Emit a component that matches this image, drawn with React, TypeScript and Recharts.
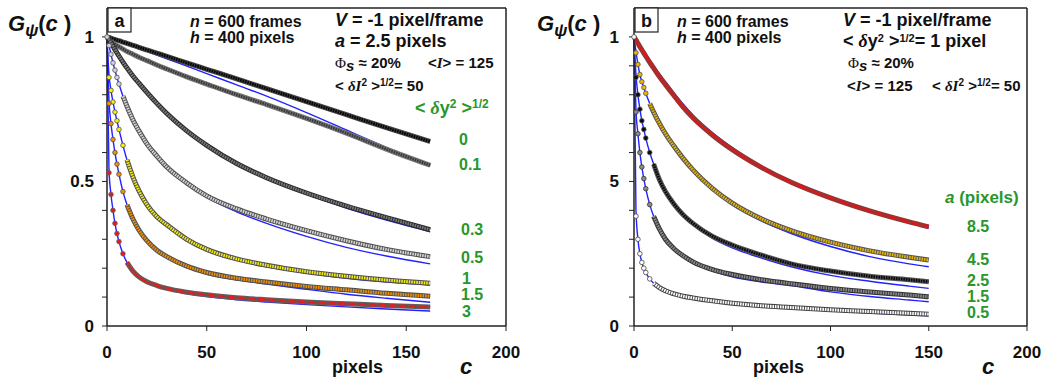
import React from 'react';
import { LineChart, Line, XAxis, YAxis, ReferenceLine } from 'recharts';

const FONT = '"Liberation Sans", Arial, sans-serif';
const SERIF = '"Liberation Serif", "DejaVu Serif", serif';
const GREEN = '#2a962a';
const FIT_BLUE = '#2222ff';
const AXIS = '#222';

// lag c (pixels) where each curve is sampled, panel a
const lagsA = [0, 1, 2, 3, 4, 5, 6, 8, 10, 13, 16, 20, 25, 30, 40, 50, 65, 80, 100, 120, 140, 162];

// panel a: G(c) for several <dy^2>^1/2 (markers) and fitted model (blue)
const gA_dy0 = [1, 0.998, 0.996, 0.993, 0.991, 0.989, 0.987, 0.982, 0.978, 0.971, 0.964, 0.955, 0.944, 0.933, 0.91, 0.888, 0.855, 0.821, 0.776, 0.731, 0.686, 0.638];
const gA_dy01 = [1, 0.99, 0.984, 0.979, 0.974, 0.97, 0.966, 0.958, 0.95, 0.94, 0.93, 0.918, 0.903, 0.889, 0.862, 0.837, 0.8, 0.766, 0.718, 0.667, 0.612, 0.556];
const fitA_dy01 = [1, 0.997, 0.995, 0.992, 0.99, 0.987, 0.985, 0.98, 0.975, 0.967, 0.96, 0.95, 0.937, 0.924, 0.899, 0.873, 0.834, 0.795, 0.738, 0.678, 0.618, 0.553];
const gA_dy03 = [1, 0.99, 0.98, 0.968, 0.956, 0.945, 0.934, 0.913, 0.893, 0.865, 0.84, 0.808, 0.77, 0.735, 0.675, 0.625, 0.562, 0.513, 0.46, 0.415, 0.375, 0.333];
const fitA_dy03 = [1, 0.99, 0.98, 0.968, 0.956, 0.945, 0.934, 0.913, 0.893, 0.865, 0.84, 0.808, 0.77, 0.735, 0.675, 0.625, 0.56, 0.51, 0.455, 0.408, 0.366, 0.326];
const gA_dy05 = [1, 0.97, 0.94, 0.91, 0.885, 0.86, 0.837, 0.795, 0.76, 0.713, 0.675, 0.63, 0.588, 0.55, 0.495, 0.45, 0.405, 0.37, 0.33, 0.295, 0.265, 0.24];
const fitA_dy05 = [1, 0.97, 0.94, 0.91, 0.885, 0.86, 0.837, 0.795, 0.76, 0.713, 0.675, 0.63, 0.585, 0.545, 0.49, 0.445, 0.395, 0.355, 0.31, 0.272, 0.242, 0.215];
const gA_dy1 = [null, 0.86, 0.815, 0.775, 0.74, 0.71, 0.68, 0.625, 0.575, 0.515, 0.468, 0.42, 0.378, 0.35, 0.3, 0.265, 0.232, 0.21, 0.188, 0.172, 0.159, 0.148];
const fitA_dy1 = [1, 0.87, 0.815, 0.775, 0.74, 0.71, 0.68, 0.625, 0.575, 0.515, 0.468, 0.42, 0.378, 0.35, 0.3, 0.262, 0.228, 0.205, 0.183, 0.165, 0.152, 0.142];
const gA_dy15 = [null, 0.77, 0.7, 0.645, 0.6, 0.56, 0.525, 0.465, 0.42, 0.37, 0.332, 0.295, 0.262, 0.24, 0.207, 0.185, 0.165, 0.152, 0.137, 0.125, 0.113, 0.103];
const fitA_dy15 = [1, 0.78, 0.7, 0.645, 0.6, 0.56, 0.525, 0.465, 0.42, 0.37, 0.332, 0.295, 0.262, 0.238, 0.204, 0.18, 0.16, 0.145, 0.127, 0.11, 0.096, 0.082];
const gA_dy3 = [null, 0.53, 0.455, 0.4, 0.355, 0.32, 0.292, 0.25, 0.22, 0.19, 0.17, 0.153, 0.14, 0.13, 0.117, 0.108, 0.098, 0.091, 0.083, 0.077, 0.071, 0.066];
const fitA_dy3 = [1, 0.54, 0.455, 0.4, 0.355, 0.32, 0.292, 0.25, 0.22, 0.19, 0.17, 0.152, 0.138, 0.127, 0.112, 0.102, 0.091, 0.083, 0.074, 0.066, 0.059, 0.052];

// panel b: G(c) for several blob sizes a (pixels)
const lagsB = [0, 1, 2, 3, 4, 5, 6, 8, 10, 13, 16, 20, 25, 30, 40, 50, 65, 80, 100, 120, 140, 150];
const gB_a85 = [1, 0.99, 0.978, 0.966, 0.955, 0.944, 0.933, 0.912, 0.892, 0.862, 0.835, 0.8, 0.757, 0.72, 0.66, 0.61, 0.548, 0.497, 0.443, 0.398, 0.36, 0.343];
const fitB_a85 = [1, 0.992, 0.982, 0.971, 0.961, 0.951, 0.941, 0.921, 0.901, 0.872, 0.845, 0.81, 0.768, 0.73, 0.668, 0.617, 0.553, 0.5, 0.444, 0.397, 0.357, 0.338];
const gB_a45 = [null, 0.945, 0.905, 0.87, 0.845, 0.825, 0.805, 0.77, 0.74, 0.7, 0.665, 0.625, 0.58, 0.54, 0.475, 0.425, 0.37, 0.33, 0.29, 0.26, 0.238, 0.228];
const fitB_a45 = [1, 0.95, 0.905, 0.87, 0.845, 0.825, 0.805, 0.77, 0.74, 0.7, 0.665, 0.625, 0.58, 0.54, 0.473, 0.42, 0.363, 0.32, 0.275, 0.24, 0.215, 0.205];
const gB_a25 = [null, 0.86, 0.8, 0.75, 0.71, 0.68, 0.65, 0.6, 0.56, 0.505, 0.465, 0.425, 0.385, 0.355, 0.31, 0.28, 0.245, 0.215, 0.19, 0.172, 0.16, 0.153];
const fitB_a25 = [1, 0.87, 0.8, 0.75, 0.71, 0.68, 0.65, 0.6, 0.56, 0.505, 0.465, 0.423, 0.382, 0.35, 0.303, 0.27, 0.235, 0.205, 0.175, 0.155, 0.138, 0.13];
const gB_a15 = [null, 0.74, 0.665, 0.6, 0.55, 0.51, 0.475, 0.42, 0.38, 0.335, 0.3, 0.27, 0.243, 0.222, 0.195, 0.178, 0.16, 0.146, 0.13, 0.118, 0.107, 0.101];
const fitB_a15 = [1, 0.75, 0.665, 0.6, 0.55, 0.51, 0.475, 0.42, 0.38, 0.335, 0.3, 0.268, 0.24, 0.218, 0.19, 0.17, 0.152, 0.14, 0.118, 0.102, 0.09, 0.084];
const gB_a05 = [1, 0.38, 0.3, 0.25, 0.22, 0.2, 0.185, 0.163, 0.148, 0.133, 0.122, 0.112, 0.103, 0.097, 0.087, 0.079, 0.07, 0.064, 0.056, 0.05, 0.044, 0.041];
const fitB_a05 = [1, 0.4, 0.3, 0.25, 0.22, 0.2, 0.185, 0.163, 0.148, 0.133, 0.122, 0.112, 0.103, 0.096, 0.085, 0.076, 0.066, 0.06, 0.053, 0.045, 0.038, 0.035];

const xTicks = [0, 50, 100, 150, 200];
const yTicks = [0, 0.1, 0.2, 0.3, 0.4, 0.5, 0.6, 0.7, 0.8, 0.9, 1];
const yLabelValues = [0, 0.5, 1];
const yLabelsA = ['0', '0.5', '1'];
const yLabelsB = ['0', '5', '1'];

const labelsA = ['0', '0.1', '0.3', '0.5', '1', '1.5', '3'];
const labelsB = ['8.5', '4.5', '2.5', '1.5', '0.5'];

type Curve = {
  key: string;
  values: (number | null)[];
  fit?: number[];
  fill: string;
  edge: string;
  chainFrom: number; // lags below this are drawn as separate markers
};

const curvesA: Curve[] = [
  { key: 'dy0', values: gA_dy0, fill: '#050505', edge: '#444444', chainFrom: 0 },
  { key: 'dy01', values: gA_dy01, fit: fitA_dy01, fill: '#3a3a3a', edge: '#777777', chainFrom: 0 },
  { key: 'dy03', values: gA_dy03, fit: fitA_dy03, fill: '#7a7a7a', edge: '#2a2a2a', chainFrom: 0 },
  { key: 'dy05', values: gA_dy05, fit: fitA_dy05, fill: '#d4d4d4', edge: '#505050', chainFrom: 8 },
  { key: 'dy1', values: gA_dy1, fit: fitA_dy1, fill: '#f4ee10', edge: '#505050', chainFrom: 10 },
  { key: 'dy15', values: gA_dy15, fit: fitA_dy15, fill: '#f09000', edge: '#505050', chainFrom: 10 },
  { key: 'dy3', values: gA_dy3, fit: fitA_dy3, fill: '#e81818', edge: '#606060', chainFrom: 10 },
];

const curvesB: Curve[] = [
  { key: 'a85', values: gB_a85, fit: fitB_a85, fill: '#e41515', edge: '#8a3a3a', chainFrom: 0 },
  { key: 'a45', values: gB_a45, fit: fitB_a45, fill: '#e8b400', edge: '#555555', chainFrom: 8 },
  { key: 'a25', values: gB_a25, fit: fitB_a25, fill: '#0a0a0a', edge: '#555555', chainFrom: 10 },
  { key: 'a15', values: gB_a15, fit: fitB_a15, fill: '#8a8a8a', edge: '#333333', chainFrom: 10 },
  { key: 'a05', values: gB_a05, fit: fitB_a05, fill: '#ffffff', edge: '#444444', chainFrom: 10 },
];

function buildRows(lags: number[], curves: Curve[]) {
  return lags.map((c, i) => {
    const row: Record<string, number | null> = { c };
    curves.forEach((s) => {
      const v = s.values[i];
      row[s.key] = c >= s.chainFrom ? v : null;
      row[s.key + '_pt'] = c < s.chainFrom ? v : null;
      if (s.fit) row[s.key + '_fit'] = s.fit[i];
    });
    return row;
  });
}

const rowsA = buildRows(lagsA, curvesA);
const rowsB = buildRows(lagsB, curvesB);

const common = { type: 'monotone' as const, isAnimationActive: false, activeDot: false, legendType: 'none' as const };

function renderCurves(curves: Curve[]) {
  const fits = curves
    .filter((s) => s.fit)
    .map((s) => (
      <Line key={s.key + '_fit'} {...common} dataKey={s.key + '_fit'} stroke={FIT_BLUE} strokeWidth={1.4} dot={false} />
    ));
  const marks = curves.flatMap((s) => [
    <Line key={s.key + '_edge'} {...common} dataKey={s.key} stroke={s.edge} strokeWidth={5} dot={false} />,
    <Line key={s.key + '_bead'} {...common} dataKey={s.key} stroke={s.fill} strokeWidth={3} strokeDasharray="1.6 0.9" dot={false} />,
    <Line
      key={s.key + '_pt'}
      {...common}
      dataKey={s.key + '_pt'}
      stroke="none"
      dot={{ r: 2.3, fill: s.fill, stroke: s.edge, strokeWidth: 0.8 }}
    />,
  ]);
  return [...fits, ...marks];
}

const tickStyle = { fill: '#111', fontSize: 17, fontWeight: 700, fontFamily: FONT };

function yFormatter(labels: string[]) {
  return (v: number) => {
    const i = yLabelValues.findIndex((t) => Math.abs(t - v) < 1e-9);
    return i >= 0 ? labels[i] : '';
  };
}

type PanelProps = {
  left: number;
  width: number;
  plotLeft: number;
  plotRight: number;
  rows: Record<string, number | null>[];
  curves: Curve[];
  yLabels: string[];
  yMargin: number;
};

const Panel = ({ left, width, plotLeft, plotRight, rows, curves, yLabels, yMargin }: PanelProps) => (
  <div style={{ position: 'absolute', left, top: 0 }}>
    <LineChart width={width} height={381} data={rows} margin={{ top: 8, right: width - plotRight, bottom: 25, left: 0 }}>
      <XAxis
        type="number"
        dataKey="c"
        domain={[0, 200]}
        ticks={xTicks}
        interval={0}
        height={30}
        tickSize={5}
        tickMargin={15}
        axisLine={{ stroke: AXIS, strokeWidth: 1.5 }}
        tickLine={{ stroke: AXIS }}
        tick={tickStyle}
      />
      <YAxis
        type="number"
        domain={[0, 1.1]}
        ticks={yTicks}
        interval={0}
        width={plotLeft}
        tickSize={5}
        tickMargin={yMargin}
        tickFormatter={yFormatter(yLabels)}
        axisLine={{ stroke: AXIS, strokeWidth: 1.5 }}
        tickLine={{ stroke: AXIS }}
        tick={tickStyle}
      />
      <ReferenceLine y={1.1} stroke={AXIS} strokeWidth={1.5} />
      <ReferenceLine x={200} stroke={AXIS} strokeWidth={1.5} />
      {renderCurves(curves)}
    </LineChart>
  </div>
);

const Title = ({ x }: { x: number }) => (
  <text x={x} y={31} fontSize={22} fontWeight={700} fontStyle="italic">
    G<tspan fontSize={17} dy={5}>ψ</tspan>
    <tspan dy={-5} fontStyle="normal">(</tspan>
    <tspan>c</tspan>
    <tspan fontStyle="normal"> )</tspan>
  </text>
);

const PanelTag = ({ x, tag }: { x: number; tag: string }) => (
  <g>
    <rect x={x} y={8} width={23} height={24} fill="#fff" stroke={AXIS} strokeWidth={1.2} />
    <text x={x + 11.5} y={27} fontSize={18} fontWeight={700} textAnchor="middle">
      {tag}
    </text>
  </g>
);

const Frames = ({ x }: { x: number }) => (
  <g fontSize={16}>
    <text x={x} y={27}>
      <tspan fontStyle="italic">n</tspan>
      {' = 600 frames'}
    </text>
    <text x={x} y={43}>
      <tspan fontStyle="italic">h</tspan>
      {' = 400 pixels'}
    </text>
  </g>
);

// "< δI² >^1/2 = 50"
const DeltaI = ({ x, y }: { x: number; y: number }) => (
  <text x={x} y={y} fontSize={15}>
    {'< '}
    <tspan fontFamily={SERIF} fontStyle="italic">δI</tspan>
    <tspan dy={-5} fontSize={10}>2</tspan>
    <tspan dy={5}>{' >'}</tspan>
    <tspan dy={-5} fontSize={10}>1/2</tspan>
    <tspan dy={5}>{'= 50'}</tspan>
  </text>
);

const Phi = ({ x, y }: { x: number; y: number }) => (
  <text x={x} y={y} fontSize={15}>
    <tspan fontFamily={SERIF} fontWeight={400}>Φ</tspan>
    <tspan dy={3} fontStyle="italic">s</tspan>
    <tspan dy={-3}>{' ≈ 20%'}</tspan>
  </text>
);

const MeanI = ({ x, y }: { x: number; y: number }) => (
  <text x={x} y={y} fontSize={15}>
    {'<'}
    <tspan fontFamily={SERIF} fontStyle="italic">I</tspan>
    {'> = 125'}
  </text>
);

const Annotations = () => (
  <svg
    width={1051}
    height={381}
    style={{ position: 'absolute', left: 0, top: 0, pointerEvents: 'none' }}
    fontFamily={FONT}
    fontWeight={700}
    fill="#111"
  >
    {/* panel a */}
    <Title x={8} />
    <PanelTag x={108} tag="a" />
    <Frames x={190} />
    <text x={335} y={26} fontSize={18}>
      <tspan fontStyle="italic">V</tspan>
      {' = -1 pixel/frame'}
    </text>
    <text x={335} y={47} fontSize={18}>
      <tspan fontStyle="italic">a</tspan>
      {' = 2.5 pixels'}
    </text>
    <Phi x={335} y={68} />
    <MeanI x={428} y={68} />
    <DeltaI x={335} y={91} />
    <text x={415} y={114} fontSize={18} fill={GREEN}>
      {'< '}
      <tspan fontFamily={SERIF} fontStyle="italic">δ</tspan>
      {'y'}
      <tspan dy={-6} fontSize={12}>2</tspan>
      <tspan dy={6}>{' >'}</tspan>
      <tspan dy={-6} fontSize={12}>1/2</tspan>
    </text>
    <g fontSize={16} fill={GREEN}>
      {labelsA.map((t, i) => (
        <text key={t} x={[459, 459, 461, 461, 462, 461, 462][i]} y={[145, 170, 235, 263, 284, 300, 317][i]}>
          {t}
        </text>
      ))}
    </g>
    <text x={332} y={373} fontSize={18}>
      pixels
    </text>
    <text x={460} y={374} fontSize={22} fontStyle="italic">
      c
    </text>

    {/* panel b */}
    <Title x={537} />
    <PanelTag x={635} tag="b" />
    <Frames x={677} />
    <text x={843} y={26} fontSize={18}>
      <tspan fontStyle="italic">V</tspan>
      {' = -1 pixel/frame'}
    </text>
    <text x={843} y={47} fontSize={18}>
      {'< '}
      <tspan fontFamily={SERIF} fontStyle="italic">δ</tspan>
      {'y'}
      <tspan dy={-5} fontSize={11}>2</tspan>
      <tspan dy={5}>{' >'}</tspan>
      <tspan dy={-5} fontSize={11}>1/2</tspan>
      <tspan dy={5}>{'= 1 pixel'}</tspan>
    </text>
    <Phi x={848} y={68} />
    <MeanI x={847} y={91} />
    <DeltaI x={932} y={91} />
    <text x={945} y={203} fontSize={17} fill={GREEN}>
      <tspan fontStyle="italic">a</tspan>
      {' (pixels)'}
    </text>
    <g fontSize={16} fill={GREEN}>
      {labelsB.map((t, i) => (
        <text key={t} x={967} y={[232, 265, 286, 302, 318][i]}>
          {t}
        </text>
      ))}
    </g>
    <text x={753} y={373} fontSize={18}>
      pixels
    </text>
    <text x={982} y={374} fontSize={22} fontStyle="italic">
      c
    </text>
  </svg>
);

export default function App() {
  return (
    <div style={{ position: 'absolute', left: 0, top: 0, width: 1051, height: 381, background: '#fff' }}>
      <Panel left={0} width={520} plotLeft={107} plotRight={506} rows={rowsA} curves={curvesA} yLabels={yLabelsA} yMargin={8} />
      <Panel left={520} width={531} plotLeft={114} plotRight={507} rows={rowsB} curves={curvesB} yLabels={yLabelsB} yMargin={10} />
      <Annotations />
    </div>
  );
}
